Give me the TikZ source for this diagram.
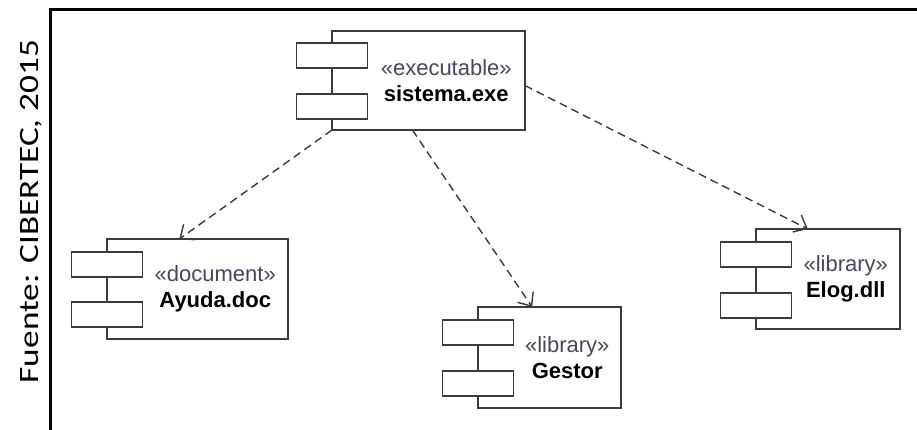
\documentclass[tikz,border=0pt]{standalone}
\usepackage{fontspec}
\setmainfont{Liberation Sans}
\newfontfamily\calibri{Carlito}
\usepackage{tikz}
\usetikzlibrary{arrows.meta,positioning,calc}

\definecolor{linegray}{RGB}{60,60,60}
\definecolor{stereo}{RGB}{70,70,100}

\begin{document}
\begin{tikzpicture}[x=1pt,y=-1pt,
    comp/.style={draw=linegray,line width=1.4pt,fill=white,inner sep=0pt,outer sep=0pt},
    port/.style={draw=linegray,line width=1.4pt,fill=white,minimum width=71pt,
                 minimum height=25pt,inner sep=0pt,outer sep=0pt},
    ctext/.style={align=center,font=\fontsize{22}{26}\selectfont,inner sep=0pt},
    dep/.style={draw=linegray,line width=1.4pt,dash pattern=on 8pt off 5pt,
                -{Straight Barb[length=11pt,width=19pt]}}]
  \useasboundingbox (0,0) rectangle (917,430);

  % frame and source
  \draw[line width=3pt] (50,431) -- (50,10) -- (918,10);
  \node[rotate=90,xscale=1.26,font=\calibri\fontsize{28}{32}\selectfont] (src) at (31,211.5)
       {Fuente: CIBERTEC, 2015};

  \node[comp,minimum width=193pt,minimum height=99pt]  (sis) at (428.5,80.5) {};
  \node[port,below=12pt of sis.north west]             (sis1) {};
  \node[port,below=26pt of sis1]                       (sis2) {};
  \node[ctext] (sist) at ($(sis1.east |- sis.center)!.5!(sis.east)$)
       {\textcolor{stereo}{«executable»}\\\textbf{sistema.exe}};

  \node[comp,minimum width=181pt,minimum height=100pt] (ayu) at (197.5,289) {};
  \node[port,below=13pt of ayu.north west]             (ayu1) {};
  \node[port,below=25pt of ayu1]                       (ayu2) {};
  \node[ctext] (ayut) at ($(ayu1.east |- ayu.center)!.5!(ayu.east)$)
       {\textcolor{stereo}{«document»}\\\textbf{Ayuda.doc}};

  \node[comp,minimum width=143pt,minimum height=101pt] (ges) at (549.5,357.5) {};
  \node[port,below=13pt of ges.north west]             (ges1) {};
  \node[port,below=26pt of ges1]                       (ges2) {};
  \node[ctext] (gest) at ($(ges1.east |- ges.center)!.5!(ges.east)$)
       {\textcolor{stereo}{«library»}\\\textbf{Gestor}};

  \node[comp,minimum width=144pt,minimum height=100pt] (elo) at (828,279) {};
  \node[port,below=13pt of elo.north west]             (elo1) {};
  \node[port,below=26pt of elo1]                       (elo2) {};
  \node[ctext] (elot) at ($(elo1.east |- elo.center)!.5!(elo.east)$)
       {\textcolor{stereo}{«library»}\\\textbf{Elog.dll}};

  \path (sis.south west) edge[dep] (ayu.110)
        (sis.252)        edge[dep] (ges.109)
        (sis.-3)         edge[dep] (elo.112);
\end{tikzpicture}
\end{document}
